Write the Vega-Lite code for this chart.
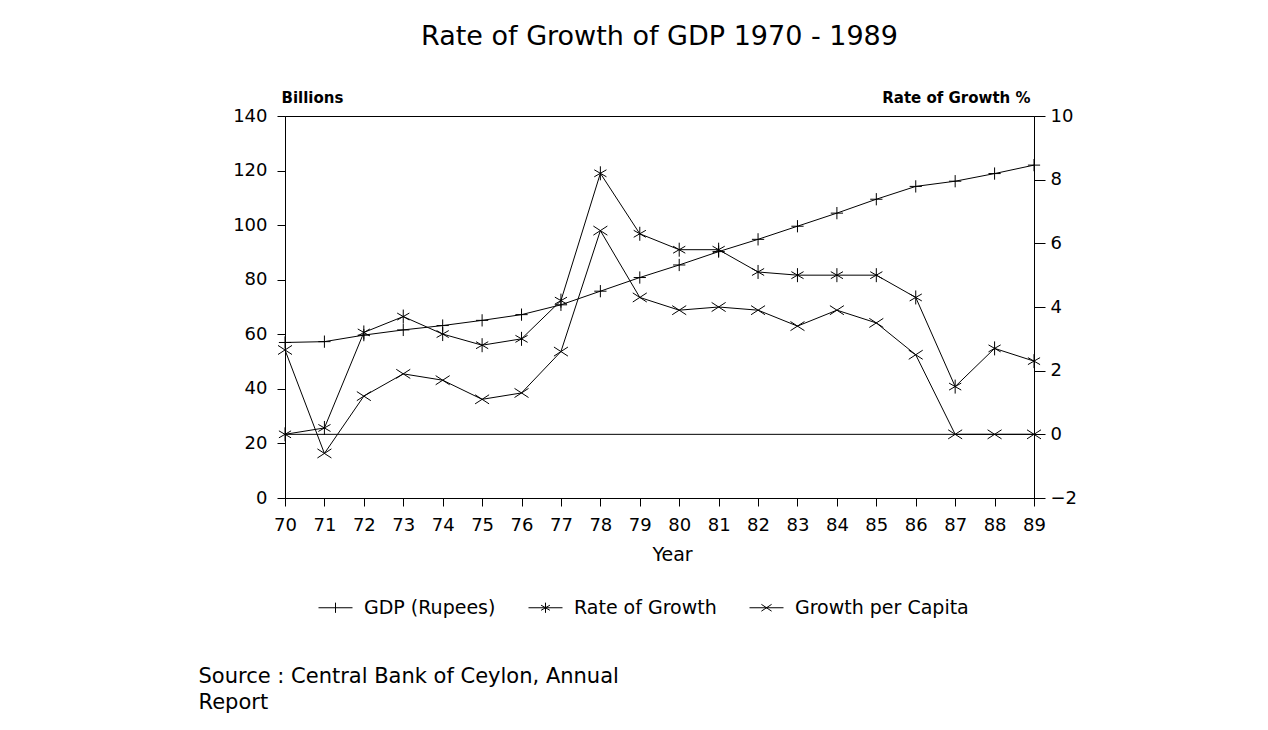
{
  "$schema": "https://vega.github.io/schema/vega-lite/v6.json",
  "autosize": "none",
  "width": 749,
  "height": 382,
  "padding": {"left": 285, "top": 116, "right": 234, "bottom": 232},
  "background": "white",
  "config": {
    "font": "DejaVu Sans",
    "view": {"stroke": "black", "strokeWidth": 1},
    "axis": {"grid": false, "domainColor": "black", "tickColor": "black", "labelColor": "black", "titleColor": "black", "labelFontSize": 18, "labelFont": "DejaVu Sans", "titleFont": "DejaVu Sans", "labelFontWeight": "normal"}
  },
  "title": {"text": "Rate of Growth of GDP 1970 - 1989", "fontSize": 27, "fontWeight": "normal", "color": "black", "anchor": "middle", "frame": "group", "offset": 39, "font": "DejaVu Sans"},
  "data": {"values": [
    {"year": 70, "series": "GDP (Rupees)", "value": 57.0},
    {"year": 71, "series": "GDP (Rupees)", "value": 57.3},
    {"year": 72, "series": "GDP (Rupees)", "value": 59.7},
    {"year": 73, "series": "GDP (Rupees)", "value": 61.6},
    {"year": 74, "series": "GDP (Rupees)", "value": 63.2},
    {"year": 75, "series": "GDP (Rupees)", "value": 65.1},
    {"year": 76, "series": "GDP (Rupees)", "value": 67.2},
    {"year": 77, "series": "GDP (Rupees)", "value": 70.8},
    {"year": 78, "series": "GDP (Rupees)", "value": 75.8},
    {"year": 79, "series": "GDP (Rupees)", "value": 80.8},
    {"year": 80, "series": "GDP (Rupees)", "value": 85.4},
    {"year": 81, "series": "GDP (Rupees)", "value": 90.3},
    {"year": 82, "series": "GDP (Rupees)", "value": 94.8},
    {"year": 83, "series": "GDP (Rupees)", "value": 99.6},
    {"year": 84, "series": "GDP (Rupees)", "value": 104.4},
    {"year": 85, "series": "GDP (Rupees)", "value": 109.5},
    {"year": 86, "series": "GDP (Rupees)", "value": 114.2},
    {"year": 87, "series": "GDP (Rupees)", "value": 116.1},
    {"year": 88, "series": "GDP (Rupees)", "value": 118.9},
    {"year": 89, "series": "GDP (Rupees)", "value": 122.0},
    {"year": 70, "series": "Rate of Growth", "value": 0.0},
    {"year": 71, "series": "Rate of Growth", "value": 0.2},
    {"year": 72, "series": "Rate of Growth", "value": 3.2},
    {"year": 73, "series": "Rate of Growth", "value": 3.7},
    {"year": 74, "series": "Rate of Growth", "value": 3.15},
    {"year": 75, "series": "Rate of Growth", "value": 2.8},
    {"year": 76, "series": "Rate of Growth", "value": 3.0},
    {"year": 77, "series": "Rate of Growth", "value": 4.2},
    {"year": 78, "series": "Rate of Growth", "value": 8.2},
    {"year": 79, "series": "Rate of Growth", "value": 6.3},
    {"year": 80, "series": "Rate of Growth", "value": 5.8},
    {"year": 81, "series": "Rate of Growth", "value": 5.8},
    {"year": 82, "series": "Rate of Growth", "value": 5.1},
    {"year": 83, "series": "Rate of Growth", "value": 5.0},
    {"year": 84, "series": "Rate of Growth", "value": 5.0},
    {"year": 85, "series": "Rate of Growth", "value": 5.0},
    {"year": 86, "series": "Rate of Growth", "value": 4.3},
    {"year": 87, "series": "Rate of Growth", "value": 1.5},
    {"year": 88, "series": "Rate of Growth", "value": 2.7},
    {"year": 89, "series": "Rate of Growth", "value": 2.3},
    {"year": 70, "series": "Growth per Capita", "value": 2.65},
    {"year": 71, "series": "Growth per Capita", "value": -0.6},
    {"year": 72, "series": "Growth per Capita", "value": 1.2},
    {"year": 73, "series": "Growth per Capita", "value": 1.9},
    {"year": 74, "series": "Growth per Capita", "value": 1.7},
    {"year": 75, "series": "Growth per Capita", "value": 1.1},
    {"year": 76, "series": "Growth per Capita", "value": 1.3},
    {"year": 77, "series": "Growth per Capita", "value": 2.6},
    {"year": 78, "series": "Growth per Capita", "value": 6.4},
    {"year": 79, "series": "Growth per Capita", "value": 4.3},
    {"year": 80, "series": "Growth per Capita", "value": 3.9},
    {"year": 81, "series": "Growth per Capita", "value": 4.0},
    {"year": 82, "series": "Growth per Capita", "value": 3.9},
    {"year": 83, "series": "Growth per Capita", "value": 3.4},
    {"year": 84, "series": "Growth per Capita", "value": 3.9},
    {"year": 85, "series": "Growth per Capita", "value": 3.5},
    {"year": 86, "series": "Growth per Capita", "value": 2.5},
    {"year": 87, "series": "Growth per Capita", "value": 0.0},
    {"year": 88, "series": "Growth per Capita", "value": 0.0},
    {"year": 89, "series": "Growth per Capita", "value": 0.0}
  ]},
  "resolve": {"scale": {"y": "independent"}, "axis": {"x": "independent", "y": "independent"}},
  "layer": [
    {
      "transform": [{"filter": "datum.series === 'GDP (Rupees)'"}],
      "encoding": {
        "x": {"field": "year", "type": "quantitative", "scale": {"domain": [70, 89], "nice": false, "zero": false},
          "axis": {"orient": "bottom", "values": [70,71,72,73,74,75,76,77,78,79,80,81,82,83,84,85,86,87,88,89], "format": "d", "tickSize": 8, "labelPadding": 10, "labelFlush": false, "labelOverlap": false, "labelAngle": 0,
            "title": "Year", "titleFontSize": 19, "titleFontWeight": "normal", "titleX": 387, "titleY": 56, "titleBaseline": "middle", "titleAlign": "center"}},
        "y": {"field": "value", "type": "quantitative", "scale": {"domain": [0, 140], "nice": false},
          "axis": {"orient": "left", "values": [0,20,40,60,80,100,120,140], "tickSize": 8, "labelPadding": 10,
            "title": "Billions", "titleAngle": 0, "titleAlign": "left", "titleBaseline": "middle", "titleX": -4, "titleY": -19, "titleFontSize": 15, "titleFontWeight": "bold"}}
      },
      "layer": [
        {"mark": {"type": "line", "color": "black", "strokeWidth": 1}},
        {"mark": {"type": "point", "shape": "M-1,0L1,0M0,-1L0,1", "size": 150, "filled": false, "color": "black", "strokeWidth": 1, "opacity": 1}}
      ]
    },
    {
      "transform": [{"filter": "datum.series !== 'GDP (Rupees)'"}],
      "encoding": {
        "y": {"field": "value", "type": "quantitative", "scale": {"domain": [-2, 10], "nice": false, "zero": false},
          "axis": {"orient": "right", "values": [-2,0,2,4,6,8,10], "tickSize": 11, "labelPadding": 5,
            "title": "Rate of Growth %", "titleAngle": 0, "titleAlign": "right", "titleBaseline": "middle", "titleX": -4, "titleY": -19, "titleFontSize": 15, "titleFontWeight": "bold"}}
      },
      "layer": [
        {"mark": {"type": "line", "color": "black", "strokeWidth": 1},
          "encoding": {
            "x": {"field": "year", "type": "quantitative", "scale": {"domain": [70, 89], "nice": false, "zero": false},
              "axis": {"orient": "bottom", "labels": false, "ticks": false, "domain": false,
                "title": ["Source : Central Bank of Ceylon, Annual", "Report"], "titleFontSize": 21, "titleFontWeight": "normal", "titleAlign": "left", "titleBaseline": "top", "titleX": -87, "titleY": 167, "titleLineHeight": 26}},
            "detail": {"field": "series"}}},
        {"transform": [{"filter": "datum.series === 'Rate of Growth'"}],
          "mark": {"type": "point", "shape": "M0,-1L0,1M-0.87,-0.5L0.87,0.5M-0.87,0.5L0.87,-0.5", "size": 196, "filled": false, "color": "black", "strokeWidth": 1, "opacity": 1},
          "encoding": {
            "x": {"field": "year", "type": "quantitative", "scale": {"domain": [70, 89], "nice": false, "zero": false},
              "axis": {"orient": "bottom", "labels": false, "ticks": false, "domain": false,
                "title": ["Source : Central Bank of Ceylon, Annual", "Report"], "titleFontSize": 21, "titleFontWeight": "normal", "titleAlign": "left", "titleBaseline": "top", "titleX": -87, "titleY": 167, "titleLineHeight": 26}}}},
        {"transform": [{"filter": "datum.series === 'Growth per Capita'"}],
          "mark": {"type": "point", "shape": "M-1,-0.65L1,0.65M-1,0.65L1,-0.65", "size": 196, "filled": false, "color": "black", "strokeWidth": 1, "opacity": 1},
          "encoding": {
            "x": {"field": "year", "type": "quantitative", "scale": {"domain": [70, 89], "nice": false, "zero": false},
              "axis": {"orient": "bottom", "labels": false, "ticks": false, "domain": false,
                "title": ["Source : Central Bank of Ceylon, Annual", "Report"], "titleFontSize": 21, "titleFontWeight": "normal", "titleAlign": "left", "titleBaseline": "top", "titleX": -87, "titleY": 167, "titleLineHeight": 26}}}},
        {"data": {"values": [{"zero": 0}]},
          "mark": {"type": "rule", "color": "black", "strokeWidth": 1},
          "encoding": {"y": {"field": "zero", "type": "quantitative"}}}
      ]
    },
    {
      "mark": {"type": "point", "filled": false, "color": "black", "strokeWidth": 1, "opacity": 0},
      "encoding": {
        "shape": {"field": "series", "type": "nominal",
          "scale": {"domain": ["GDP (Rupees)", "Rate of Growth", "Growth per Capita"],
            "range": ["M-1,0L1,0M0,-0.3L0,0.3", "M-1,0L1,0M0,-0.3L0,0.3M-0.26,-0.15L0.26,0.15M-0.26,0.15L0.26,-0.15", "M-1,0L1,0M-0.3,-0.2L0.3,0.2M-0.3,0.2L0.3,-0.2"]},
          "legend": {"orient": "none", "legendX": 33, "legendY": 474, "direction": "horizontal", "title": null, "labelFontSize": 19, "labelColor": "black", "labelFont": "DejaVu Sans", "labelLimit": 400,
            "symbolSize": 1156, "symbolStrokeWidth": 1, "symbolStrokeColor": "black", "symbolOpacity": 1, "symbolFillColor": "transparent", "labelOffset": 11, "columnPadding": 30, "padding": 0}}
      }
    }
  ]
}
